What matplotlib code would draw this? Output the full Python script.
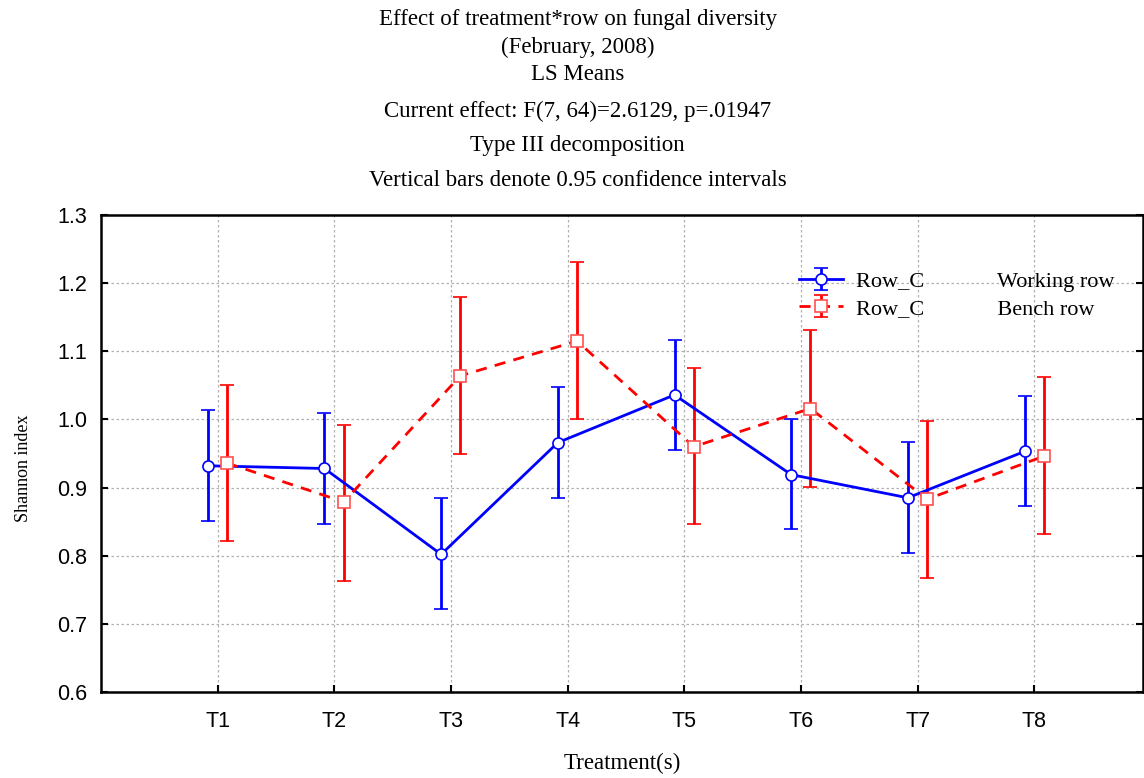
import matplotlib
matplotlib.use("Agg")
import matplotlib.pyplot as plt
from matplotlib.ticker import FormatStrFormatter, MultipleLocator

# LS means and 0.95 confidence limits
treatments = ["T1", "T2", "T3", "T4", "T5", "T6", "T7", "T8"]
working_mean = [0.932, 0.928, 0.802, 0.966, 1.036, 0.919, 0.885, 0.953]
working_low = [0.851, 0.847, 0.722, 0.884, 0.955, 0.839, 0.804, 0.873]
working_high = [1.014, 1.009, 0.884, 1.047, 1.117, 1.000, 0.967, 1.035]
bench_mean = [0.936, 0.879, 1.064, 1.115, 0.960, 1.016, 0.883, 0.946]
bench_low = [0.821, 0.763, 0.949, 1.000, 0.846, 0.901, 0.768, 0.832]
bench_high = [1.050, 0.992, 1.179, 1.231, 1.076, 1.131, 0.998, 1.062]

title_lines = [
    "Effect of treatment*row on fungal diversity",
    "(February, 2008)",
    "LS Means",
    "Current effect: F(7, 64)=2.6129, p=.01947",
    "Type III decomposition",
    "Vertical bars denote 0.95 confidence intervals",
]

serif = "Liberation Serif"
sans = "Liberation Sans"

fig = plt.figure(figsize=(11.44, 7.78), dpi=100)
ax = fig.add_axes([101 / 1144, 1 - 692 / 778, 1042 / 1144, 477 / 778])

pos = list(range(1, len(treatments) + 1))
x_work = [p - 0.085 for p in pos]
x_bench = [p + 0.08 for p in pos]

def err(mean, low, high):
    return [[m - l for m, l in zip(mean, low)], [h - m for m, h in zip(mean, high)]]

pad = " " * 13
ax.errorbar(x_work, working_mean, yerr=err(working_mean, working_low, working_high),
            color="#0000ff", ecolor="#0000ff", lw=2, elinewidth=2, capsize=5, capthick=2,
            marker="o", ms=8, mfc="white", mec="#0000ff", mew=1.2, ls="-",
            label="Row_C" + pad + "Working row", zorder=3)
ax.errorbar(x_bench, bench_mean, yerr=err(bench_mean, bench_low, bench_high),
            color="#ff0000", ecolor="#ff0000", lw=2, elinewidth=2, capsize=5, capthick=2,
            marker="s", ms=8, mfc="white", mec="#ff5050", mew=1.2, ls=(0, (4, 3)),
            label="Row_C" + pad + "Bench row", zorder=3)

ax.set_xlim(0, 8.93)
ax.set_ylim(0.6, 1.3)
ax.set_xticks(pos)
ax.set_xticklabels(treatments, fontsize=15.5, family=sans)
ax.yaxis.set_major_locator(MultipleLocator(0.1))
ax.yaxis.set_major_formatter(FormatStrFormatter("%.1f"))
for lab in ax.get_yticklabels():
    lab.set_fontsize(15.5)
    lab.set_family(sans)
ax.tick_params(direction="in", length=5, width=1.5, right=True, pad=10)
ax.tick_params(axis="x", pad=14)
for sp in ax.spines.values():
    sp.set_linewidth(1.8)
ax.grid(True, color="#b0b0b0", ls=(0, (2, 2)), lw=0.9)
ax.set_axisbelow(True)

ax.set_ylabel("Shannon index", family=serif, fontsize=13)
ax.yaxis.set_label_coords(-0.0665, 0.47)
ax.set_xlabel("Treatment(s)", family=serif, fontsize=16.5)
ax.xaxis.set_label_coords(0.5, -0.128)

leg = ax.legend(loc="upper left", bbox_to_anchor=(0.6506, 0.924), frameon=False,
                prop={"family": serif, "size": 16}, handlelength=2.0,
                handletextpad=0.55, labelspacing=0.3)

title_y = [20, 47, 74, 111, 146, 181]
for txt, yy in zip(title_lines, title_y):
    fig.text(0.505, 1 - yy / 778, txt, ha="center", va="center",
             family=serif, fontsize=16.5)

fig.savefig("out.png", dpi=100)
